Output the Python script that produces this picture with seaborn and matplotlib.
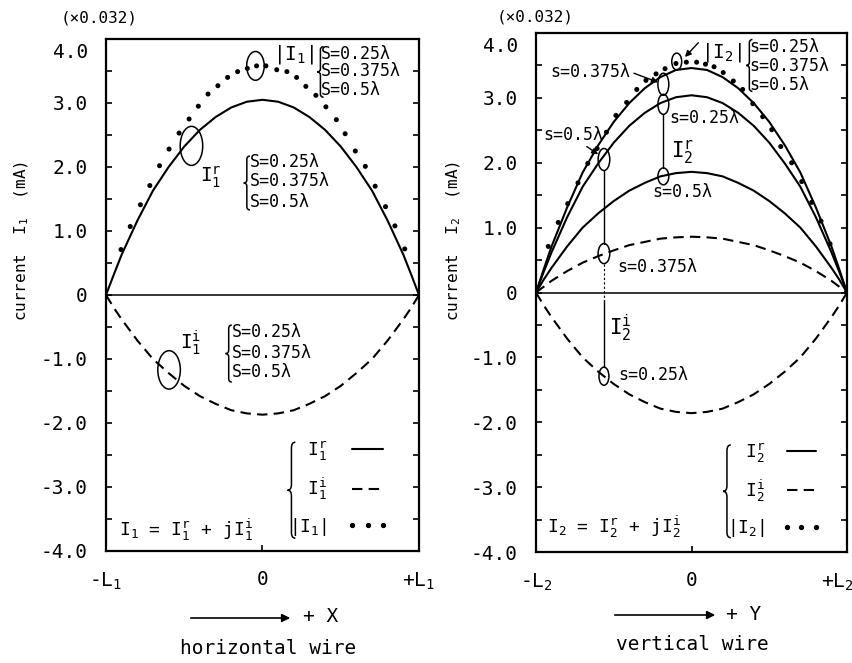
import numpy as np
import pandas as pd
import matplotlib
matplotlib.use("Agg")
import matplotlib.pyplot as plt
import seaborn as sns
from matplotlib.patches import Ellipse, PathPatch
from matplotlib.path import Path
from matplotlib.lines import Line2D

# ---------------- data ----------------
pos = [-1.0, -0.95, -0.9, -0.8, -0.7, -0.6, -0.5, -0.4, -0.3, -0.2, -0.1, 0.0,
       0.1, 0.2, 0.3, 0.4, 0.5, 0.6, 0.7, 0.8, 0.9, 0.95, 1.0]

# horizontal wire
I1_real = [0, 0.32, 0.63, 1.16, 1.63, 2.00, 2.32, 2.58, 2.78, 2.93, 3.02, 3.05,
           3.02, 2.93, 2.78, 2.58, 2.32, 2.00, 1.63, 1.16, 0.63, 0.32, 0]
I1_imag = [0, -0.20, -0.38, -0.71, -1.00, -1.22, -1.42, -1.58, -1.70, -1.80, -1.85, -1.87,
           -1.85, -1.80, -1.70, -1.58, -1.42, -1.22, -1.00, -0.71, -0.38, -0.20, 0]
I1_abs_pos = [-0.904, -0.845, -0.780, -0.720, -0.658, -0.597, -0.533, -0.469, -0.410, -0.348,
              -0.285, -0.223, -0.159, -0.097, -0.038, 0.022, 0.091, 0.156, 0.218, 0.277,
              0.341, 0.405, 0.472, 0.528, 0.593, 0.657, 0.720, 0.786, 0.846, 0.909]
I1_abs = [0.71, 1.07, 1.41, 1.71, 2.02, 2.28, 2.53, 2.75, 2.95, 3.14,
          3.27, 3.40, 3.49, 3.54, 3.58, 3.58, 3.52, 3.49, 3.40, 3.26,
          3.12, 2.94, 2.74, 2.52, 2.25, 2.01, 1.70, 1.38, 1.08, 0.72]

# vertical wire
I2_real_s0375 = [0, 0.36, 0.71, 1.31, 1.85, 2.27, 2.63, 2.92, 3.15, 3.32, 3.43, 3.46,
                 3.43, 3.32, 3.15, 2.92, 2.63, 2.27, 1.85, 1.31, 0.71, 0.36, 0]
I2_real_s025 = [0, 0.32, 0.62, 1.16, 1.63, 1.99, 2.31, 2.57, 2.77, 2.92, 3.01, 3.04,
                3.01, 2.92, 2.77, 2.57, 2.31, 1.99, 1.63, 1.16, 0.62, 0.32, 0]
I2_real_s05 = [0, 0.20, 0.38, 0.71, 1.00, 1.22, 1.41, 1.57, 1.69, 1.79, 1.84, 1.86,
               1.84, 1.79, 1.69, 1.57, 1.41, 1.22, 1.00, 0.71, 0.38, 0.20, 0]
I2_imag_s0375 = [0, 0.09, 0.18, 0.33, 0.46, 0.56, 0.65, 0.73, 0.78, 0.83, 0.85, 0.86,
                 0.85, 0.83, 0.78, 0.73, 0.65, 0.56, 0.46, 0.33, 0.18, 0.09, 0]
I2_imag_s025 = [0, -0.20, -0.38, -0.71, -1.00, -1.22, -1.41, -1.57, -1.69, -1.79, -1.84, -1.86,
                -1.84, -1.79, -1.69, -1.57, -1.41, -1.22, -1.00, -0.71, -0.38, -0.20, 0]
I2_abs_pos = [-0.921, -0.857, -0.796, -0.730, -0.667, -0.607, -0.547, -0.486, -0.417, -0.352,
              -0.293, -0.228, -0.170, -0.100, -0.033, 0.033, 0.090, 0.145, 0.204, 0.269,
              0.329, 0.394, 0.458, 0.516, 0.574, 0.644, 0.709, 0.773, 0.833, 0.891]
I2_abs = [0.71, 1.08, 1.37, 1.69, 1.99, 2.22, 2.47, 2.73, 2.93, 3.13,
          3.27, 3.37, 3.45, 3.53, 3.55, 3.55, 3.52, 3.48, 3.39, 3.26,
          3.13, 2.91, 2.71, 2.51, 2.25, 2.00, 1.71, 1.39, 1.10, 0.75]

ytick_vals = [-4.0, -3.0, -2.0, -1.0, 0.0, 1.0, 2.0, 3.0, 4.0]
ytick_text = ["-4.0", "-3.0", "-2.0", "-1.0", "0", "1.0", "2.0", "3.0", ""]
xtick_vals = [-1.0, 0.0, 1.0]
xtick_text_1 = ["-L$_1$", "0", "+L$_1$"]
xtick_text_2 = ["-L$_2$", "0", ""]
xtick_last_2 = "+L$_2$"

# ---------------- style ----------------
sns.set_theme(style="ticks")
MONO = "DejaVu Sans Mono"
plt.rcParams["font.family"] = [MONO, "DejaVu Sans"]
plt.rcParams["mathtext.fontset"] = "custom"
plt.rcParams["mathtext.rm"] = MONO
plt.rcParams["mathtext.it"] = MONO
plt.rcParams["mathtext.bf"] = MONO + ":bold"
plt.rcParams["axes.edgecolor"] = "black"
plt.rcParams["axes.linewidth"] = 1.6
plt.rcParams["text.color"] = "black"
plt.rcParams["xtick.color"] = "black"
plt.rcParams["ytick.color"] = "black"

W, H = 853, 663
fig = plt.figure(figsize=(W / 100, H / 100), dpi=100)
fig.patch.set_facecolor("white")


def axes_px(x0, y0, x1, y1):
    return fig.add_axes([x0 / W, 1 - y1 / H, (x1 - x0) / W, (y1 - y0) / H])


def fpx(x, y):
    return x / W, 1 - y / H


ax1 = axes_px(106, 39, 419, 551)
ax2 = axes_px(536, 33, 847, 552)

DASH = (0, (5, 3))
LW = 1.5


def brace(ax, x, y_top, y_bot, w, lw=1.1):
    ym = (y_top + y_bot) / 2
    d = (y_top - y_bot) * 0.06
    xm = x + w * 0.5
    verts = [(x + w, y_top), (xm, y_top), (xm, y_top - d), (xm, ym + d), (xm, ym), (x, ym),
             (xm, ym), (xm, ym - d), (xm, y_bot + d), (xm, y_bot), (x + w, y_bot)]
    codes = [Path.MOVETO, Path.CURVE3, Path.CURVE3, Path.LINETO, Path.CURVE3, Path.CURVE3,
             Path.CURVE3, Path.CURVE3, Path.LINETO, Path.CURVE3, Path.CURVE3]
    ax.add_patch(PathPatch(Path(verts, codes), fill=False, lw=lw, color="black"))


def ell(ax, x, y, w, h):
    ax.add_patch(Ellipse((x, y), w, h, fill=False, lw=1.1, color="black"))


def arrow(ax, tail, head):
    ax.annotate("", xy=head, xytext=tail,
                arrowprops=dict(arrowstyle="-|>", color="black", lw=1.0,
                                mutation_scale=9, shrinkA=0, shrinkB=0))


def setup(ax, xlabels):
    ax.set_xlim(-1, 1)
    ax.set_ylim(-4, 4)
    ax.set_yticks(ytick_vals)
    ax.set_yticklabels(ytick_text)
    ax.set_yticks(np.arange(-3.5, 4.0, 1.0), minor=True)
    ax.set_xticks(xtick_vals)
    ax.set_xticklabels(xlabels)
    ax.tick_params(axis="y", which="both", direction="in", left=True, right=True,
                   length=4, width=1.2, labelsize=14, pad=13)
    ax.tick_params(axis="x", which="both", direction="in", bottom=True, top=False,
                   length=4, width=1.2, labelsize=14, pad=14)
    for s in ax.spines.values():
        s.set_visible(True)
        s.set_color("black")
        s.set_linewidth(1.6)
    ax.axhline(0, color="black", lw=1.1, zorder=1)
    ax.set_xlabel("")
    ax.set_ylabel("")
    ax.annotate("4.0", xy=(0, 4.0), xycoords=("axes fraction", "data"),
                xytext=(-13, -10), textcoords="offset points",
                ha="right", va="center", fontsize=14)


# ---------------- left panel ----------------
sns.lineplot(x=pos, y=I1_real, ax=ax1, color="black", lw=LW, estimator=None, sort=False)
sns.lineplot(x=pos, y=I1_imag, ax=ax1, color="black", lw=LW, estimator=None, sort=False,
             linestyle=DASH)
sns.scatterplot(x=I1_abs_pos, y=I1_abs, ax=ax1, color="black", s=13, edgecolor="none",
                legend=False)
setup(ax1, xtick_text_1)

FS_S = 12
ell(ax1, -0.045, 3.58, 0.112, 0.45)
ell(ax1, -0.454, 2.33, 0.144, 0.61)
ell(ax1, -0.597, -1.17, 0.144, 0.60)
ax1.text(0.064, 3.75, r"|I$_1$|", fontsize=14, ha="left", va="center")
brace(ax1, 0.35, 3.88, 3.09, 0.04)
for yv, t in zip([3.77, 3.50, 3.21], ["S=0.25λ", "S=0.375λ", "S=0.5λ"]):
    ax1.text(0.372, yv, t, fontsize=FS_S, ha="left", va="center")
ax1.text(-0.40, 1.84, r"I$_1^r$", fontsize=14, ha="left", va="center")
brace(ax1, -0.12, 2.17, 1.33, 0.04)
for yv, t in zip([2.08, 1.78, 1.46], ["S=0.25λ", "S=0.375λ", "S=0.5λ"]):
    ax1.text(-0.082, yv, t, fontsize=FS_S, ha="left", va="center")
ax1.text(-0.53, -0.75, r"I$_1^i$", fontsize=14, ha="left", va="center")
brace(ax1, -0.236, -0.47, -1.36, 0.04)
for yv, t in zip([-0.58, -0.90, -1.21], ["S=0.25λ", "S=0.375λ", "S=0.5λ"]):
    ax1.text(-0.195, yv, t, fontsize=FS_S, ha="left", va="center")

h_solid = Line2D([], [], color="black", lw=LW)
h_dash = Line2D([], [], color="black", lw=LW, linestyle=DASH)
h_dot = Line2D([], [], color="black", linestyle="none", marker="o", markersize=2.8)
leg1 = ax1.legend([h_solid, h_dash, h_dot], [r"I$_1^r$", r"I$_1^i$", r"|I$_1$|"],
                  loc="center left", bbox_to_anchor=(0.585, 0.122), frameon=False,
                  markerfirst=False, fontsize=13, handlelength=2.3, handletextpad=1.1,
                  labelspacing=0.75, numpoints=3, borderpad=0, borderaxespad=0)
brace(ax1, 0.16, -2.30, -3.80, 0.05)
ax1.text(-0.917, -3.67, r"I$_1$ = I$_1^r$ + jI$_1^i$", fontsize=13, ha="left", va="center")

# ---------------- right panel ----------------
sns.lineplot(x=pos, y=I2_real_s0375, ax=ax2, color="black", lw=LW, estimator=None, sort=False)
sns.lineplot(x=pos, y=I2_real_s025, ax=ax2, color="black", lw=LW, estimator=None, sort=False)
sns.lineplot(x=pos, y=I2_real_s05, ax=ax2, color="black", lw=LW, estimator=None, sort=False)
sns.lineplot(x=pos, y=I2_imag_s0375, ax=ax2, color="black", lw=LW, estimator=None, sort=False,
             linestyle=DASH)
sns.lineplot(x=pos, y=I2_imag_s025, ax=ax2, color="black", lw=LW, estimator=None, sort=False,
             linestyle=DASH)
sns.scatterplot(x=I2_abs_pos, y=I2_abs, ax=ax2, color="black", s=13, edgecolor="none",
                legend=False)
setup(ax2, xtick_text_2)
# last x tick label kept inside the figure edge
ax2.annotate(xtick_last_2, xy=(1.0, 0.0), xycoords="axes fraction",
             xytext=(5, -14), textcoords="offset points", ha="right", va="top",
             fontsize=14)

ell(ax2, -0.095, 3.56, 0.064, 0.26)
ell(ax2, -0.181, 3.21, 0.07, 0.34)
ell(ax2, -0.181, 2.90, 0.07, 0.31)
ell(ax2, -0.181, 1.79, 0.07, 0.26)
ax2.plot([-0.181, -0.181], [2.745, 1.92], color="black", lw=1.0)
ell(ax2, -0.563, 2.05, 0.075, 0.34)
ell(ax2, -0.563, 0.60, 0.075, 0.31)
ell(ax2, -0.563, -1.29, 0.064, 0.28)
ax2.plot([-0.563, -0.563], [1.88, 0.755], color="black", lw=1.0)
ax2.plot([-0.563, -0.563], [0.445, -0.12], color="black", lw=0.8, linestyle=(0, (2, 2)))
ax2.plot([-0.563, -0.563], [-0.12, -1.15], color="black", lw=1.0)

arrow(ax2, (0.044, 3.85), (-0.042, 3.63))
ax2.text(0.062, 3.70, r"|I$_2$|", fontsize=14, ha="left", va="center")
brace(ax2, 0.352, 3.90, 3.10, 0.04)
for yv, t in zip([3.79, 3.49, 3.20], ["s=0.25λ", "s=0.375λ", "s=0.5λ"]):
    ax2.text(0.372, yv, t, fontsize=FS_S, ha="left", va="center")
ax2.text(-0.91, 3.40, "s=0.375λ", fontsize=FS_S, ha="left", va="center")
arrow(ax2, (-0.37, 3.38), (-0.215, 3.24))
ax2.text(-0.955, 2.43, "s=0.5λ", fontsize=FS_S, ha="left", va="center")
arrow(ax2, (-0.674, 2.25), (-0.60, 2.13))
ax2.text(-0.14, 2.69, "s=0.25λ", fontsize=FS_S, ha="left", va="center")
ax2.text(-0.135, 2.17, r"I$_2^r$", fontsize=15, ha="left", va="center")
ax2.text(-0.255, 1.55, "s=0.5λ", fontsize=FS_S, ha="left", va="center")
ax2.text(-0.48, 0.39, "s=0.375λ", fontsize=FS_S, ha="left", va="center")
ax2.text(-0.53, -0.55, r"I$_2^i$", fontsize=15, ha="left", va="center")
ax2.text(-0.47, -1.27, "s=0.25λ", fontsize=FS_S, ha="left", va="center")

leg2 = ax2.legend([h_solid, h_dash, h_dot], [r"I$_2^r$", r"I$_2^i$", r"|I$_2$|"],
                  loc="center left", bbox_to_anchor=(0.615, 0.119), frameon=False,
                  markerfirst=False, fontsize=13, handlelength=2.2, handletextpad=0.9,
                  labelspacing=0.75, numpoints=3, borderpad=0, borderaxespad=0)
brace(ax2, 0.203, -2.35, -3.78, 0.05)
ax2.text(-0.929, -3.62, r"I$_2$ = I$_2^r$ + jI$_2^i$", fontsize=13, ha="left", va="center")

# ---------------- figure-level text ----------------
fig.text(*fpx(99, 18), "(×0.032)", fontsize=11.5, ha="center", va="center")
fig.text(*fpx(535, 17), "(×0.032)", fontsize=11.5, ha="center", va="center")
fig.text(*fpx(22, 241), r"current  I$_1$  (mA)", fontsize=11.5, rotation=90,
         ha="center", va="center")
fig.text(*fpx(454, 241), r"current  I$_2$  (mA)", fontsize=11.5, rotation=90,
         ha="center", va="center")

for (x0, x1, y) in [(188, 293, 618), (612, 718, 615)]:
    fig.add_artist(matplotlib.patches.FancyArrowPatch(
        fpx(x0, y), fpx(x1, y), transform=fig.transFigure, arrowstyle="-|>",
        mutation_scale=12, color="black", lw=1.2))
fig.text(*fpx(303, 617), "+ X", fontsize=14, ha="left", va="center")
fig.text(*fpx(726, 615), "+ Y", fontsize=14, ha="left", va="center")
fig.text(*fpx(268, 648), "horizontal wire", fontsize=14, ha="center", va="center")
fig.text(*fpx(692, 645), "vertical wire", fontsize=14, ha="center", va="center")

fig.savefig("out.png", dpi=100, facecolor="white")
